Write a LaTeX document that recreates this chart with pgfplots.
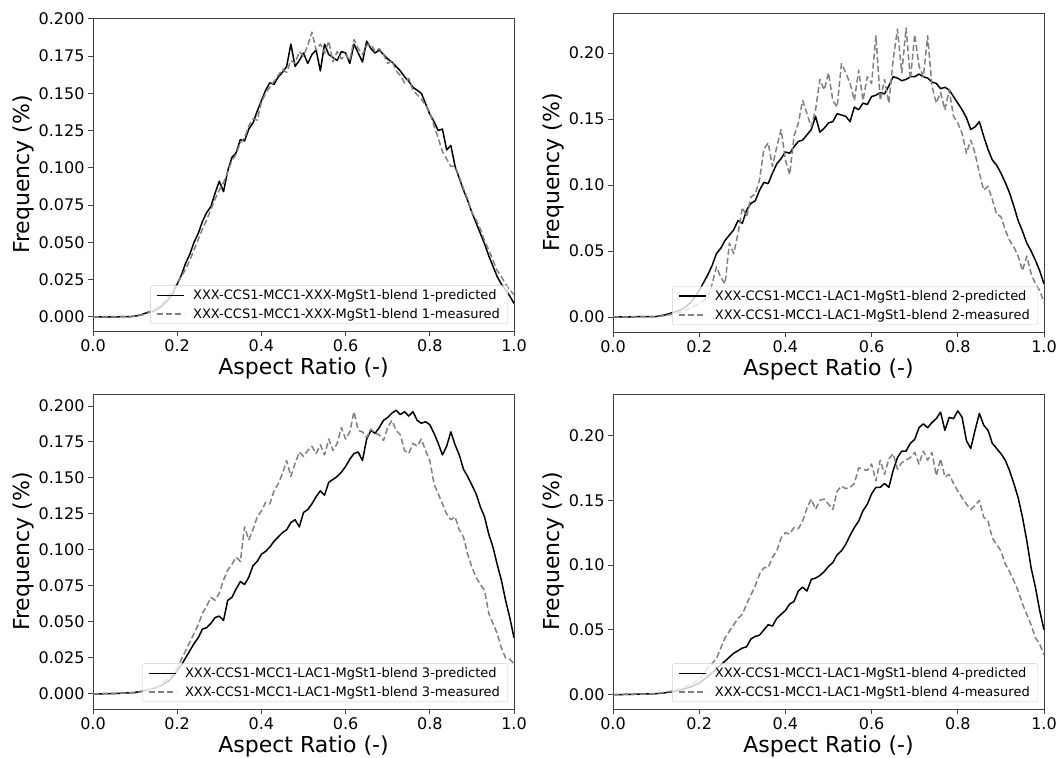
\documentclass[border=0pt]{standalone}
\usepackage{pgfplots}
\pgfplotsset{compat=1.18}
\usepackage{pgfplotstable}
\usepackage{fontspec}
\setmainfont{DejaVu Sans}
\definecolor{mgray}{HTML}{808080}

\pgfplotstableread{
x y
0.00 0.0000
0.05 0.0000
0.09 0.0002
0.10 0.0005
0.11 0.0010
0.12 0.0020
0.13 0.0030
0.14 0.0035
0.15 0.0045
0.16 0.0065
0.17 0.0090
0.18 0.0120
0.19 0.0160
0.20 0.0220
0.21 0.0280
0.22 0.0360
0.23 0.0420
0.24 0.0500
0.25 0.0560
0.26 0.0640
0.27 0.0700
0.28 0.0740
0.29 0.0830
0.30 0.0910
0.31 0.0840
0.32 0.0980
0.33 0.1070
0.34 0.1100
0.35 0.1190
0.36 0.1180
0.37 0.1260
0.38 0.1300
0.39 0.1380
0.40 0.1450
0.41 0.1520
0.42 0.1570
0.43 0.1560
0.44 0.1610
0.45 0.1640
0.46 0.1680
0.47 0.1830
0.48 0.1680
0.49 0.1720
0.50 0.1770
0.51 0.1700
0.52 0.1760
0.53 0.1790
0.54 0.1650
0.55 0.1830
0.56 0.1760
0.57 0.1740
0.58 0.1720
0.59 0.1780
0.60 0.1770
0.61 0.1700
0.62 0.1830
0.63 0.1770
0.64 0.1710
0.65 0.1850
0.66 0.1800
0.67 0.1770
0.68 0.1790
0.69 0.1760
0.70 0.1730
0.71 0.1710
0.72 0.1680
0.73 0.1650
0.74 0.1610
0.75 0.1580
0.76 0.1540
0.77 0.1520
0.78 0.1500
0.79 0.1430
0.80 0.1360
0.81 0.1310
0.82 0.1250
0.83 0.1260
0.84 0.1120
0.85 0.1150
0.86 0.1010
0.87 0.0930
0.88 0.0850
0.89 0.0780
0.90 0.0700
0.91 0.0630
0.92 0.0560
0.93 0.0490
0.94 0.0410
0.95 0.0340
0.96 0.0270
0.97 0.0220
0.98 0.0180
0.99 0.0140
1.00 0.0090
}\PoneA

\pgfplotstableread{
x y
0.00 0.0000
0.09 0.0002
0.10 0.0005
0.11 0.0010
0.12 0.0015
0.13 0.0025
0.14 0.0040
0.15 0.0055
0.16 0.0075
0.17 0.0100
0.18 0.0140
0.19 0.0180
0.20 0.0230
0.21 0.0270
0.22 0.0320
0.23 0.0380
0.24 0.0450
0.25 0.0520
0.26 0.0590
0.27 0.0650
0.28 0.0720
0.29 0.0790
0.30 0.0850
0.31 0.0900
0.32 0.0970
0.33 0.1050
0.34 0.1090
0.35 0.1170
0.36 0.1200
0.37 0.1280
0.38 0.1330
0.39 0.1320
0.40 0.1440
0.41 0.1500
0.42 0.1540
0.43 0.1580
0.44 0.1620
0.45 0.1660
0.46 0.1640
0.47 0.1720
0.48 0.1700
0.49 0.1780
0.50 0.1750
0.51 0.1820
0.52 0.1910
0.53 0.1790
0.54 0.1830
0.55 0.1770
0.56 0.1850
0.57 0.1710
0.58 0.1780
0.59 0.1730
0.60 0.1760
0.61 0.1720
0.62 0.1860
0.63 0.1800
0.64 0.1760
0.65 0.1820
0.66 0.1830
0.67 0.1780
0.68 0.1800
0.69 0.1760
0.70 0.1700
0.71 0.1720
0.72 0.1650
0.73 0.1620
0.74 0.1570
0.75 0.1600
0.76 0.1520
0.77 0.1490
0.78 0.1460
0.79 0.1420
0.80 0.1370
0.81 0.1280
0.82 0.1200
0.83 0.1110
0.84 0.1060
0.85 0.1010
0.86 0.1010
0.87 0.0940
0.88 0.0860
0.89 0.0790
0.90 0.0700
0.91 0.0650
0.92 0.0590
0.93 0.0510
0.94 0.0450
0.95 0.0380
0.96 0.0310
0.97 0.0270
0.98 0.0220
0.99 0.0180
1.00 0.0150
}\PoneB

\pgfplotstableread{
x y
0.00 0.0000
0.10 0.0003
0.11 0.0010
0.12 0.0015
0.13 0.0025
0.14 0.0035
0.15 0.0045
0.16 0.0060
0.17 0.0080
0.18 0.0110
0.19 0.0150
0.20 0.0200
0.21 0.0260
0.22 0.0320
0.23 0.0390
0.24 0.0480
0.25 0.0520
0.26 0.0580
0.27 0.0620
0.28 0.0660
0.29 0.0730
0.30 0.0710
0.31 0.0810
0.32 0.0860
0.33 0.0880
0.34 0.0960
0.35 0.1020
0.36 0.1010
0.37 0.1090
0.38 0.1160
0.39 0.1200
0.40 0.1250
0.41 0.1240
0.42 0.1290
0.43 0.1330
0.44 0.1340
0.45 0.1380
0.46 0.1420
0.47 0.1520
0.48 0.1400
0.49 0.1430
0.50 0.1470
0.51 0.1480
0.52 0.1540
0.53 0.1530
0.54 0.1520
0.55 0.1480
0.56 0.1590
0.57 0.1570
0.58 0.1620
0.59 0.1610
0.60 0.1670
0.61 0.1680
0.62 0.1700
0.63 0.1690
0.64 0.1750
0.65 0.1820
0.66 0.1810
0.67 0.1790
0.68 0.1800
0.69 0.1820
0.70 0.1820
0.71 0.1840
0.72 0.1820
0.73 0.1810
0.74 0.1780
0.75 0.1770
0.76 0.1730
0.77 0.1740
0.78 0.1720
0.79 0.1670
0.80 0.1620
0.81 0.1570
0.82 0.1510
0.83 0.1420
0.84 0.1440
0.85 0.1480
0.86 0.1370
0.87 0.1270
0.88 0.1190
0.89 0.1150
0.90 0.1090
0.91 0.1020
0.92 0.0940
0.93 0.0840
0.94 0.0730
0.95 0.0650
0.96 0.0560
0.97 0.0500
0.98 0.0430
0.99 0.0350
1.00 0.0250
}\PtwoA

\pgfplotstableread{
x y
0.00 0.0000
0.10 0.0003
0.12 0.0010
0.14 0.0025
0.16 0.0040
0.18 0.0070
0.20 0.0100
0.21 0.0120
0.22 0.0140
0.23 0.0250
0.24 0.0380
0.25 0.0300
0.26 0.0250
0.27 0.0560
0.28 0.0480
0.29 0.0630
0.30 0.0830
0.31 0.0760
0.32 0.0910
0.33 0.0930
0.34 0.1040
0.35 0.1270
0.36 0.1320
0.37 0.1140
0.38 0.1290
0.39 0.1420
0.40 0.1190
0.41 0.1080
0.42 0.1370
0.43 0.1470
0.44 0.1640
0.45 0.1540
0.46 0.1440
0.47 0.1570
0.48 0.1800
0.49 0.1720
0.50 0.1850
0.51 0.1640
0.52 0.1590
0.53 0.1920
0.54 0.1850
0.55 0.1770
0.56 0.1640
0.57 0.1870
0.58 0.1640
0.59 0.1820
0.60 0.1770
0.61 0.2130
0.62 0.1640
0.63 0.1800
0.64 0.1620
0.65 0.1950
0.66 0.2180
0.67 0.1850
0.68 0.2190
0.69 0.1800
0.70 0.2140
0.71 0.1900
0.72 0.1820
0.73 0.2130
0.74 0.1750
0.75 0.1620
0.76 0.1700
0.77 0.1570
0.78 0.1720
0.79 0.1520
0.80 0.1470
0.81 0.1390
0.82 0.1240
0.83 0.1340
0.84 0.1240
0.85 0.1090
0.86 0.0960
0.87 0.0990
0.88 0.0890
0.89 0.0780
0.90 0.0760
0.91 0.0660
0.92 0.0580
0.93 0.0530
0.94 0.0460
0.95 0.0350
0.96 0.0460
0.97 0.0330
0.98 0.0250
0.99 0.0200
1.00 0.0110
}\PtwoB

\pgfplotstableread{
x y
0.00 0.0000
0.05 0.0002
0.10 0.0010
0.12 0.0020
0.14 0.0035
0.16 0.0055
0.18 0.0090
0.19 0.0120
0.20 0.0160
0.21 0.0200
0.22 0.0250
0.23 0.0300
0.24 0.0350
0.25 0.0390
0.26 0.0450
0.27 0.0460
0.28 0.0490
0.29 0.0530
0.30 0.0540
0.31 0.0510
0.32 0.0650
0.33 0.0670
0.34 0.0730
0.35 0.0780
0.36 0.0760
0.37 0.0810
0.38 0.0890
0.39 0.0920
0.40 0.0970
0.41 0.0990
0.42 0.1020
0.43 0.1060
0.44 0.1090
0.45 0.1120
0.46 0.1140
0.47 0.1190
0.48 0.1210
0.49 0.1160
0.50 0.1260
0.51 0.1280
0.52 0.1320
0.53 0.1370
0.54 0.1410
0.55 0.1380
0.56 0.1470
0.57 0.1490
0.58 0.1510
0.59 0.1540
0.60 0.1580
0.61 0.1630
0.62 0.1670
0.63 0.1680
0.64 0.1620
0.65 0.1770
0.66 0.1830
0.67 0.1810
0.68 0.1850
0.69 0.1900
0.70 0.1920
0.71 0.1950
0.72 0.1970
0.73 0.1940
0.74 0.1960
0.75 0.1930
0.76 0.1960
0.77 0.1900
0.78 0.1880
0.79 0.1890
0.80 0.1870
0.81 0.1810
0.82 0.1740
0.83 0.1660
0.84 0.1720
0.85 0.1820
0.86 0.1730
0.87 0.1660
0.88 0.1560
0.89 0.1510
0.90 0.1450
0.91 0.1390
0.92 0.1300
0.93 0.1230
0.94 0.1110
0.95 0.1020
0.96 0.0900
0.97 0.0790
0.98 0.0650
0.99 0.0530
1.00 0.0390
}\PthreeA

\pgfplotstableread{
x y
0.00 0.0000
0.10 0.0008
0.12 0.0018
0.14 0.0035
0.16 0.0060
0.18 0.0110
0.19 0.0140
0.20 0.0180
0.21 0.0240
0.22 0.0300
0.23 0.0360
0.24 0.0420
0.25 0.0480
0.26 0.0560
0.27 0.0610
0.28 0.0670
0.29 0.0650
0.30 0.0700
0.31 0.0790
0.32 0.0860
0.33 0.0900
0.34 0.0950
0.35 0.0920
0.36 0.1160
0.37 0.1070
0.38 0.1140
0.39 0.1230
0.40 0.1270
0.41 0.1330
0.42 0.1320
0.43 0.1410
0.44 0.1460
0.45 0.1530
0.46 0.1620
0.47 0.1510
0.48 0.1600
0.49 0.1680
0.50 0.1650
0.51 0.1690
0.52 0.1720
0.53 0.1670
0.54 0.1730
0.55 0.1660
0.56 0.1770
0.57 0.1690
0.58 0.1740
0.59 0.1850
0.60 0.1770
0.61 0.1820
0.62 0.1960
0.63 0.1830
0.64 0.1820
0.65 0.1780
0.66 0.1840
0.67 0.1810
0.68 0.1800
0.69 0.1760
0.70 0.1850
0.71 0.1900
0.72 0.1830
0.73 0.1800
0.74 0.1690
0.75 0.1670
0.76 0.1740
0.77 0.1720
0.78 0.1770
0.79 0.1690
0.80 0.1620
0.81 0.1460
0.82 0.1390
0.83 0.1320
0.84 0.1250
0.85 0.1210
0.86 0.1230
0.87 0.1140
0.88 0.1090
0.89 0.0970
0.90 0.0880
0.91 0.0810
0.92 0.0760
0.93 0.0720
0.94 0.0560
0.95 0.0490
0.96 0.0420
0.97 0.0320
0.98 0.0250
0.99 0.0240
1.00 0.0210
}\PthreeB

\pgfplotstableread{
x y
0.00 0.0000
0.10 0.0008
0.12 0.0015
0.14 0.0025
0.16 0.0040
0.18 0.0060
0.20 0.0090
0.22 0.0140
0.24 0.0200
0.26 0.0260
0.27 0.0290
0.28 0.0320
0.29 0.0340
0.30 0.0360
0.31 0.0370
0.32 0.0430
0.33 0.0450
0.34 0.0460
0.35 0.0500
0.36 0.0540
0.37 0.0530
0.38 0.0590
0.39 0.0620
0.40 0.0650
0.41 0.0700
0.42 0.0720
0.43 0.0800
0.44 0.0830
0.45 0.0800
0.46 0.0890
0.47 0.0900
0.48 0.0920
0.49 0.0950
0.50 0.0990
0.51 0.1020
0.52 0.1080
0.53 0.1110
0.54 0.1160
0.55 0.1230
0.56 0.1290
0.57 0.1340
0.58 0.1420
0.59 0.1470
0.60 0.1550
0.61 0.1600
0.62 0.1600
0.63 0.1630
0.64 0.1600
0.65 0.1730
0.66 0.1830
0.67 0.1880
0.68 0.1880
0.69 0.1940
0.70 0.1970
0.71 0.2060
0.72 0.2090
0.73 0.2060
0.74 0.2100
0.75 0.2130
0.76 0.2180
0.77 0.2040
0.78 0.2140
0.79 0.2130
0.80 0.2190
0.81 0.2140
0.82 0.1960
0.83 0.1900
0.84 0.2040
0.85 0.2170
0.86 0.2080
0.87 0.2040
0.88 0.1940
0.89 0.1900
0.90 0.1860
0.91 0.1810
0.92 0.1730
0.93 0.1630
0.94 0.1520
0.95 0.1370
0.96 0.1190
0.97 0.0980
0.98 0.0830
0.99 0.0650
1.00 0.0500
}\PfourA

\pgfplotstableread{
x y
0.00 0.0000
0.10 0.0008
0.12 0.0018
0.14 0.0030
0.16 0.0050
0.18 0.0080
0.20 0.0120
0.21 0.0160
0.22 0.0210
0.23 0.0240
0.24 0.0280
0.25 0.0360
0.26 0.0440
0.27 0.0490
0.28 0.0540
0.29 0.0590
0.30 0.0620
0.31 0.0700
0.32 0.0770
0.33 0.0840
0.34 0.0930
0.35 0.0980
0.36 0.0980
0.37 0.1060
0.38 0.1110
0.39 0.1210
0.40 0.1250
0.41 0.1240
0.42 0.1290
0.43 0.1280
0.44 0.1340
0.45 0.1440
0.46 0.1510
0.47 0.1430
0.48 0.1500
0.49 0.1510
0.50 0.1470
0.51 0.1430
0.52 0.1570
0.53 0.1610
0.54 0.1590
0.55 0.1600
0.56 0.1630
0.57 0.1750
0.58 0.1740
0.59 0.1730
0.60 0.1780
0.61 0.1650
0.62 0.1810
0.63 0.1700
0.64 0.1820
0.65 0.1860
0.66 0.1740
0.67 0.1790
0.68 0.1810
0.69 0.1830
0.70 0.1870
0.71 0.1780
0.72 0.1880
0.73 0.1810
0.74 0.1870
0.75 0.1690
0.76 0.1820
0.77 0.1680
0.78 0.1700
0.79 0.1630
0.80 0.1570
0.81 0.1520
0.82 0.1470
0.83 0.1430
0.84 0.1460
0.85 0.1500
0.86 0.1370
0.87 0.1340
0.88 0.1210
0.89 0.1160
0.90 0.1110
0.91 0.1010
0.92 0.0950
0.93 0.0880
0.94 0.0800
0.95 0.0700
0.96 0.0620
0.97 0.0540
0.98 0.0440
0.99 0.0390
1.00 0.0310
}\PfourB

\pgfplotsset{
  panel/.style={
    scale only axis,
    anchor=south west,
    xmin=0, xmax=1,
    xtick={0,0.2,0.4,0.6,0.8,1.0},
    xticklabel style={/pgf/number format/.cd, fixed, fixed zerofill, precision=1},
    tick label style={font=\fontsize{16}{19}\selectfont},
    label style={font=\fontsize{22}{26}\selectfont},
    /pgf/number format/assume math mode=true,
    axis line style={draw=black!75, line width=0.9pt},
    tick style={draw=black!75, line width=0.9pt},
    tick align=outside,
    major tick length=5pt,
    xtick pos=bottom, ytick pos=left,
    scaled y ticks=false,
    xlabel={Aspect Ratio (-)},
    ylabel={Frequency (\%)},
    xlabel style={yshift=1pt},
    ylabel style={yshift=-2pt},
    legend cell align=left,
    legend style={at={(0.986,0.022)}, anchor=south east,
      draw=black!20, rounded corners=2pt, fill=white, fill opacity=0.8, text opacity=1,
      font=\fontsize{13}{15}\selectfont, inner xsep=6pt, inner ysep=2pt, row sep=3.5pt},
    legend image code/.code={\draw[#1] (0pt,0pt) -- (27pt,0pt); \path (0pt,0pt) (33pt,0pt);},
    every axis plot/.append style={line width=1.5pt, line join=round},
  },
  pred/.style={black},
  meas/.style={mgray, dash pattern=on 6pt off 3pt},
}

\begin{document}
\begin{tikzpicture}
\useasboundingbox (0pt,-757pt) rectangle (1059pt,0pt);

\begin{axis}[panel, at={(93pt,-331pt)}, width=421pt, height=313pt,
  ymin=-0.0095, ymax=0.2005,
  ytick={0,0.025,0.05,0.075,0.1,0.125,0.15,0.175,0.2},
  yticklabel style={/pgf/number format/.cd, fixed, fixed zerofill, precision=3}]
\addplot[pred] table {\PoneA};
\addlegendentry{XXX-CCS1-MCC1-XXX-MgSt1-blend 1-predicted}
\addplot[meas] table {\PoneB};
\addlegendentry{XXX-CCS1-MCC1-XXX-MgSt1-blend 1-measured}
\end{axis}

\begin{axis}[panel, at={(613pt,-332pt)}, width=431pt, height=319pt,
  ymin=-0.0114, ymax=0.2303,
  ytick={0,0.05,0.1,0.15,0.2},
  yticklabel style={/pgf/number format/.cd, fixed, fixed zerofill, precision=2}]
\addplot[pred] table {\PtwoA};
\addlegendentry{XXX-CCS1-MCC1-LAC1-MgSt1-blend 2-predicted}
\addplot[meas] table {\PtwoB};
\addlegendentry{XXX-CCS1-MCC1-LAC1-MgSt1-blend 2-measured}
\end{axis}

\begin{axis}[panel, at={(93pt,-709pt)}, width=421pt, height=315pt,
  ymin=-0.0105, ymax=0.2083,
  ytick={0,0.025,0.05,0.075,0.1,0.125,0.15,0.175,0.2},
  yticklabel style={/pgf/number format/.cd, fixed, fixed zerofill, precision=3}]
\addplot[pred] table {\PthreeA};
\addlegendentry{XXX-CCS1-MCC1-LAC1-MgSt1-blend 3-predicted}
\addplot[meas] table {\PthreeB};
\addlegendentry{XXX-CCS1-MCC1-LAC1-MgSt1-blend 3-measured}
\end{axis}

\begin{axis}[panel, at={(613pt,-709pt)}, width=431pt, height=315pt,
  ymin=-0.011, ymax=0.232,
  ytick={0,0.05,0.1,0.15,0.2},
  yticklabel style={/pgf/number format/.cd, fixed, fixed zerofill, precision=2}]
\addplot[pred] table {\PfourA};
\addlegendentry{XXX-CCS1-MCC1-LAC1-MgSt1-blend 4-predicted}
\addplot[meas] table {\PfourB};
\addlegendentry{XXX-CCS1-MCC1-LAC1-MgSt1-blend 4-measured}
\end{axis}
\end{tikzpicture}
\end{document}
